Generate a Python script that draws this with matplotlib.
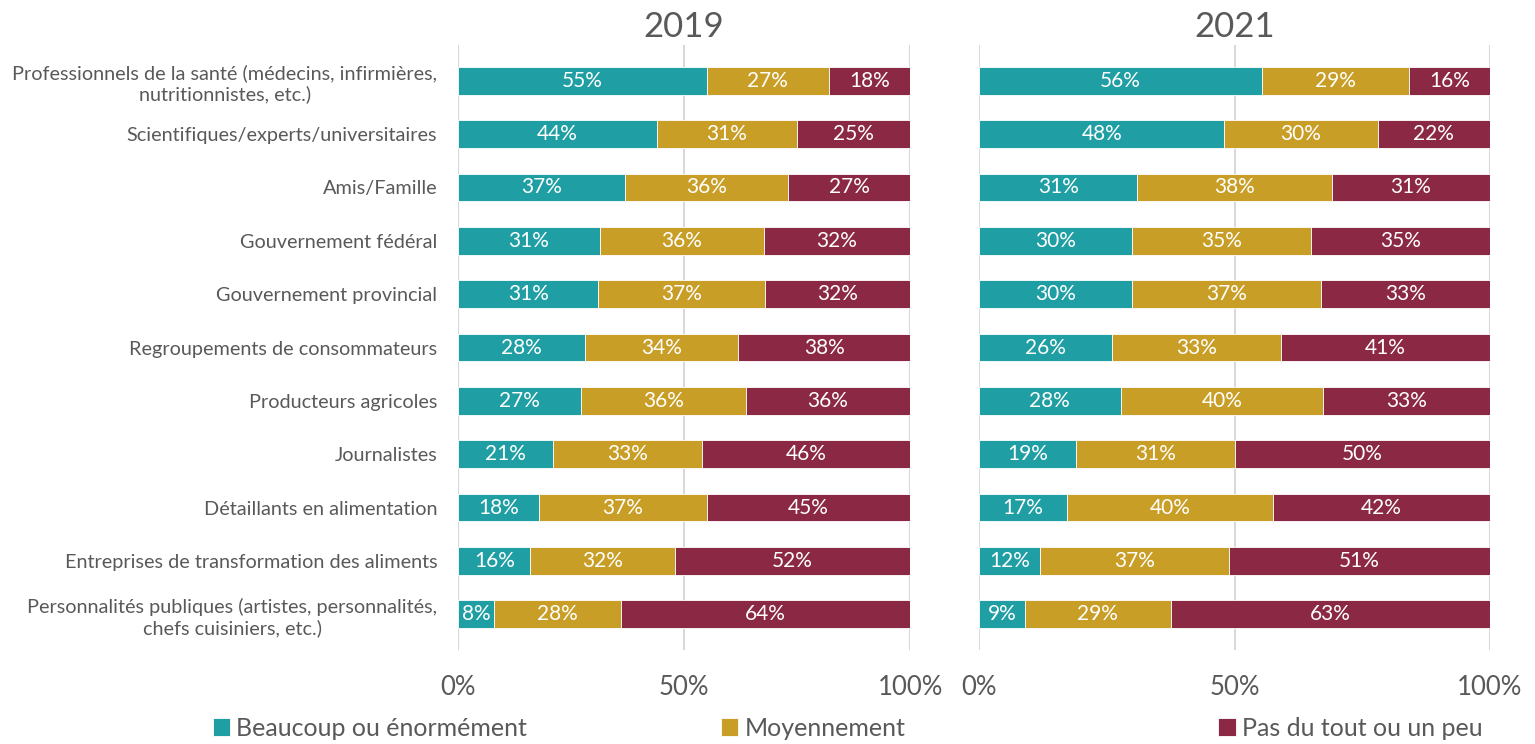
import numpy as np
import matplotlib.pyplot as plt

plt.rcParams['font.family'] = ['Lato', 'DejaVu Sans']

categories = [
    "Professionnels de la santé (médecins, infirmières,\nnutritionnistes, etc.)",
    "Scientifiques/experts/universitaires",
    "Amis/Famille",
    "Gouvernement fédéral",
    "Gouvernement provincial",
    "Regroupements de consommateurs",
    "Producteurs agricoles",
    "Journalistes",
    "Détaillants en alimentation",
    "Entreprises de transformation des aliments",
    "Personnalités publiques (artistes, personnalités,\nchefs cuisiniers, etc.)",
]
series = ["Beaucoup ou énormément", "Moyennement", "Pas du tout ou un peu"]
colors = ["#1F9EA3", "#C99E26", "#8B2843"]

beaucoup_2019 = [55, 44, 37, 31, 31, 28, 27, 21, 18, 16, 8]
moyen_2019 = [27, 31, 36, 36, 37, 34, 36, 33, 37, 32, 28]
peu_2019 = [18, 25, 27, 32, 32, 38, 36, 46, 45, 52, 64]

beaucoup_2021 = [56, 48, 31, 30, 30, 26, 28, 19, 17, 12, 9]
moyen_2021 = [29, 30, 38, 35, 37, 33, 40, 31, 40, 37, 29]
peu_2021 = [16, 22, 31, 35, 33, 41, 33, 50, 42, 51, 63]

years = ["2019", "2021"]
data = {
    "2019": [beaucoup_2019, moyen_2019, peu_2019],
    "2021": [beaucoup_2021, moyen_2021, peu_2021],
}

text_col = "#595959"
fig = plt.figure(figsize=(15.35, 7.44), dpi=100)
ax1 = fig.add_axes([0.2984, 0.1263, 0.2945, 0.8132])
ax2 = fig.add_axes([0.6378, 0.1263, 0.3329, 0.8132])

y = np.arange(len(categories))
for ax, year in zip([ax1, ax2], years):
    vals = np.array(data[year], dtype=float)
    shares = vals / vals.sum(axis=0)
    left = np.zeros(len(categories))
    for i, name in enumerate(series):
        bars = ax.barh(y, shares[i], left=left, height=0.52, color=colors[i],
                       edgecolor="white", linewidth=0.6, label=name, zorder=3)
        ax.bar_label(bars, labels=[f"{int(v)}%" for v in vals[i]],
                     label_type="center", color="white", fontsize=15)
        left += shares[i]
    ax.set_xlim(0, 1)
    ax.set_ylim(len(categories) - 0.33, -0.67)
    ax.set_xticks([0, 0.5, 1])
    ax.set_xticklabels(["0%", "50%", "100%"], fontsize=18.5, color=text_col)
    ax.tick_params(axis="x", length=0, pad=18)
    ax.grid(axis="x", color="#D9D9D9", linewidth=1.5, zorder=0)
    for s in ax.spines.values():
        s.set_visible(False)
    ax.set_title(year, fontsize=25, color=text_col, pad=6)

ax1.set_yticks(y)
ax1.set_yticklabels(categories, fontsize=14.3, color=text_col, multialignment="center")
ax1.tick_params(axis="y", length=0, pad=15)
ax2.set_yticks([])

handles, labels = ax1.get_legend_handles_labels()
for h, lab, xpos in zip(handles, labels, [0.1385, 0.4695, 0.7935]):
    fig.legend([h], [lab], loc="center left", bbox_to_anchor=(xpos, 0.021),
               frameon=False, fontsize=18, handlelength=0.7, handleheight=0.7,
               handletextpad=0.25, labelcolor=text_col, borderaxespad=0,
               borderpad=0)

fig.savefig("out.png", dpi=100)
